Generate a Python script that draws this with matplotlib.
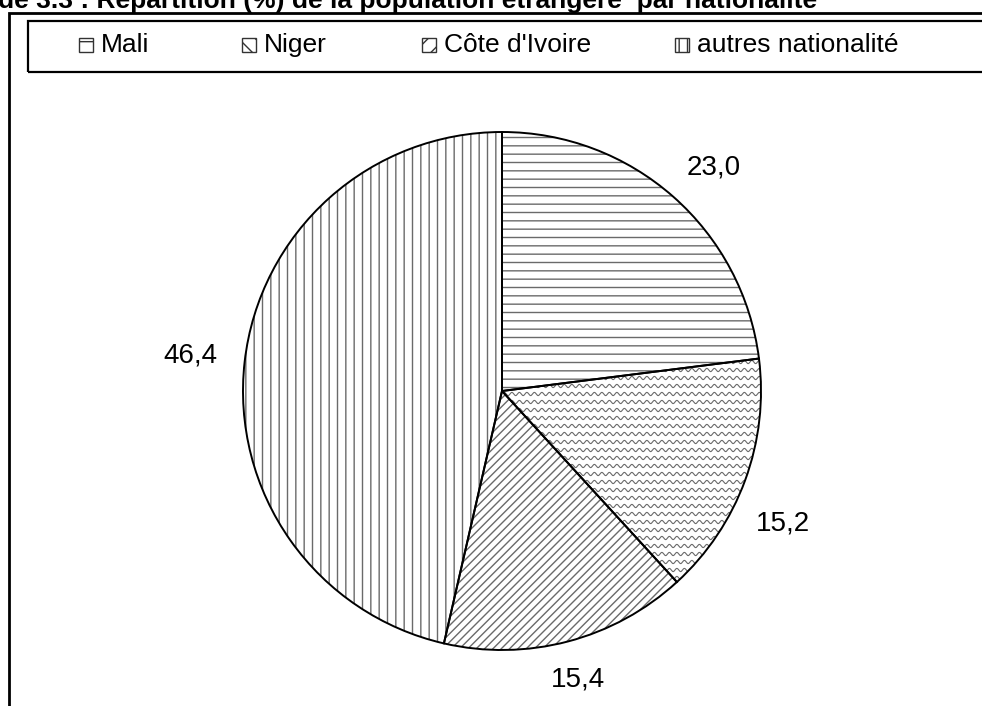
import matplotlib
matplotlib.use("Agg")
import matplotlib.pyplot as plt
import numpy as np
from matplotlib.patches import Wedge, Rectangle

categories = ["Mali", "Niger", "Côte d'Ivoire", "autres nationalité"]
values = [23.0, 15.2, 15.4, 46.4]
value_labels = ["23,0", "15,2", "15,4", "46,4"]
title = "de 3.3 : Répartition (%) de la population étrangère  par nationalité"

plt.rcParams['font.family'] = ['Liberation Sans', 'DejaVu Sans']
plt.rcParams['hatch.linewidth'] = 1.0

W, H = 982, 706
fig = plt.figure(figsize=(W / 100, H / 100), dpi=100)
ax = fig.add_axes([0, 0, 1, 1])

cx, cy, r = 502, H - 391, 259
hatch_col = '#6a6a6a'
wedges, _ = ax.pie(values, radius=r, center=(cx, cy), startangle=90,
                   counterclock=False,
                   wedgeprops=dict(facecolor='white', edgecolor=hatch_col, linewidth=0))
ax.set_aspect('auto')
ax.set_xlim(0, W)
ax.set_ylim(0, H)
ax.axis('off')

hatches = ['--', None, '////', '||']
for w, h in zip(wedges, hatches):
    if h:
        w.set_hatch(h)

# wavy texture for Niger
xs = np.arange(cx - r, cx + r, 0.5)
for y0 in np.arange(cy - r, cy + r, 8):
    ln, = ax.plot(xs, y0 + 1.6 * np.sin(2 * np.pi * xs / 7.5), color=hatch_col, lw=0.8)
    ln.set_clip_path(wedges[1])

for w in wedges:
    ax.add_patch(Wedge(w.center, w.r, w.theta1, w.theta2, fill=False,
                       edgecolor='black', lw=1.4, zorder=3))

# value labels outside each wedge
label_dist = [1.19, 1.20, 1.15, 1.21]
label_shift = [-2, -5, 0, 0]
for w, lab, d, s in zip(wedges, value_labels, label_dist, label_shift):
    a = np.deg2rad((w.theta1 + w.theta2) / 2 + s)
    ax.text(cx + d * r * np.cos(a), cy + d * r * np.sin(a), lab, fontsize=20,
            ha='center', va='center')

# outer frame
ax.add_patch(Rectangle((9, -50), 1100, H - 13 + 50, fill=False, lw=2,
                       edgecolor='black', clip_on=False))
# legend box
ax.add_patch(Rectangle((28, H - 72), 1100, 51, fill=False, lw=1.6,
                       edgecolor='black', clip_on=False))
leg_x = [79, 242, 422, 675]
leg_hatch = ['-', '\\\\', '//', '||']
ly = H - 45
for x, lab, h in zip(leg_x, categories, leg_hatch):
    ax.add_patch(Rectangle((x, ly - 7), 14, 14, facecolor='white', edgecolor='#333333',
                           lw=1.0, hatch=h))
    ax.text(x + 22, ly, lab, fontsize=19, ha='left', va='center')

ax.text(-2, H - 8, title, fontsize=19, fontweight='bold', ha='left', va='baseline')

fig.savefig('out.png', dpi=100)
